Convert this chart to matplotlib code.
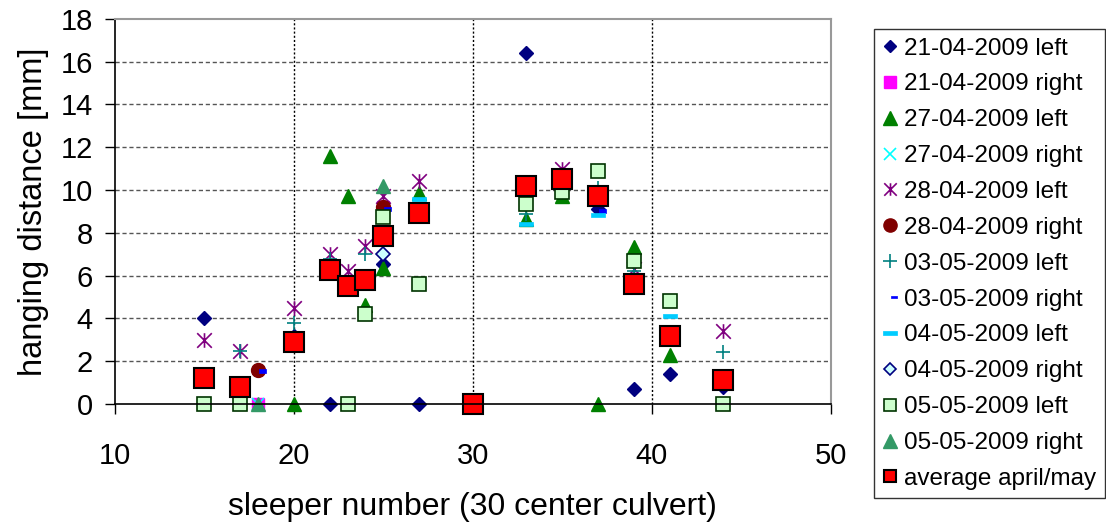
import numpy as np
import matplotlib
matplotlib.use('Agg')
from matplotlib import pyplot as plt
from matplotlib.path import Path

plt.rcParams['font.family'] = ['Liberation Sans', 'DejaVu Sans']

# hanging distance per sleeper, one series per measurement (date, side)
x_2104_l = [15, 20, 22, 25, 27, 33, 37, 39, 41, 44]
y_2104_l = [4.0, 3.2, 0.0, 6.55, 0.0, 16.4, 9.1, 0.7, 1.4, 0.8]

x_2104_r = [18, 25]
y_2104_r = [0.0, 9.2]

x_2704_l = [20, 22, 23, 24, 25, 27, 33, 35, 37, 39, 41]
y_2704_l = [0.0, 11.6, 9.7, 4.65, 6.35, 9.85, 8.65, 9.7, 0.0, 7.35, 2.3]

x_2704_r = [18]
y_2704_r = [0.0]

x_2804_l = [15, 17, 20, 22, 23, 24, 25, 27, 35, 39, 44]
y_2804_l = [3.0, 2.5, 4.5, 7.0, 6.2, 7.4, 9.7, 10.4, 11.0, 6.3, 3.4]

x_2804_r = [18, 25]
y_2804_r = [1.6, 9.2]

x_0305_l = [17, 20, 22, 24, 33, 37, 39, 44]
y_0305_l = [2.5, 3.8, 6.8, 7.0, 8.9, 10.1, 6.2, 2.45]

x_0305_r = [18, 25, 37]
y_0305_r = [1.55, 9.1, 9.0]

x_0405_l = [27, 33, 37, 41]
y_0405_l = [9.6, 8.4, 8.83, 4.1]

x_0405_r = [25]
y_0405_r = [7.0]

x_0505_l = [15, 17, 23, 24, 25, 27, 33, 35, 37, 39, 41, 44]
y_0505_l = [0.0, 0.0, 0.0, 4.2, 8.75, 5.6, 9.35, 9.9, 10.9, 6.7, 4.8, 0.0]

x_0505_r = [18, 25]
y_0505_r = [0.0, 10.2]

x_avg = [15, 17, 20, 22, 23, 24, 25, 27, 30, 33, 35, 37, 39, 41, 44]
y_avg = [1.2, 0.8, 2.9, 6.25, 5.5, 5.8, 7.85, 8.95, 0.0, 10.2, 10.5, 9.7, 5.6, 3.2, 1.1]

# excel-like marker shapes
star = Path([(0, -1), (0, 1), (-1, -1), (1, 1), (-1, 1), (1, -1)],
            [Path.MOVETO, Path.LINETO, Path.MOVETO, Path.LINETO, Path.MOVETO, Path.LINETO])
short_dash = Path([(0.1, -0.2), (1, -0.2), (1, 0.2), (0.1, 0.2), (0.1, -0.2)],
                  [Path.MOVETO, Path.LINETO, Path.LINETO, Path.LINETO, Path.CLOSEPOLY])
long_dash = Path([(-1, -0.28), (1, -0.28), (1, 0.28), (-1, 0.28), (-1, -0.28)],
                 [Path.MOVETO, Path.LINETO, Path.LINETO, Path.LINETO, Path.CLOSEPOLY])

# (x, y, label, style, marker size in legend)
series = [
    (x_2104_l, y_2104_l, '21-04-2009 left',
     dict(marker='D', ms=6.8, mfc='#000080', mec='#000080', mew=1), 5.8),
    (x_2104_r, y_2104_r, '21-04-2009 right',
     dict(marker='s', ms=8, mfc='#FF00FF', mec='#FF00FF', mew=1), 8.5),
    (x_2704_l, y_2704_l, '27-04-2009 left',
     dict(marker='^', ms=10, mfc='#008000', mec='#008000', mew=1), 9.5),
    (x_2704_r, y_2704_r, '27-04-2009 right',
     dict(marker='x', ms=8.5, mfc='#00FFFF', mec='#00FFFF', mew=1.2), 9),
    (x_2804_l, y_2804_l, '28-04-2009 left',
     dict(marker=star, ms=10.5, mfc='#800080', mec='#800080', mew=1.2), 9),
    (x_2804_r, y_2804_r, '28-04-2009 right',
     dict(marker='o', ms=10, mfc='#800000', mec='#800000', mew=1), 9.5),
    (x_0305_l, y_0305_l, '03-05-2009 left',
     dict(marker='+', ms=10, mfc='#008080', mec='#008080', mew=1.2), 10),
    (x_0305_r, y_0305_r, '03-05-2009 right',
     dict(marker=short_dash, ms=11.5, mfc='#0000FF', mec='#0000FF', mew=0.5), 10),
    (x_0405_l, y_0405_l, '04-05-2009 left',
     dict(marker=long_dash, ms=10, mfc='#00CCFF', mec='#00CCFF', mew=0.5), 10),
    (x_0405_r, y_0405_r, '04-05-2009 right',
     dict(marker='D', ms=6.8, mfc='#CCFFFF', mec='#000080', mew=1.2), 6),
    (x_0505_l, y_0505_l, '05-05-2009 left',
     dict(marker='s', ms=9.5, mfc='#CCFFCC', mec='#003300', mew=1.2), 8.5),
    (x_0505_r, y_0505_r, '05-05-2009 right',
     dict(marker='^', ms=10, mfc='#339966', mec='#339966', mew=1), 9.5),
    (x_avg, y_avg, 'average april/may',
     dict(marker='s', ms=15, mfc='#FF0000', mec='#000000', mew=1.5), 9),
]

fig = plt.figure(figsize=(11.06, 5.24), dpi=100)
ax = fig.add_axes([0.104, 0.229, 0.647, 0.735])

for xs, ys, label, style, _ in series:
    ax.plot(xs, ys, linestyle='none', label=label, clip_on=False, **style)

ax.set_xlim(10, 50)
ax.set_ylim(0, 18)
ax.set_xticks(np.arange(10, 51, 10))
ax.set_yticks(np.arange(0, 19, 2))

# horizontal grid dashed grey, vertical grid dotted black
for yv in np.arange(2, 18, 2):
    ax.axhline(yv, color='#555555', lw=1, ls=(0, (3, 2)), zorder=0)
for xv in [20, 30, 40]:
    ax.axvline(xv, color='black', lw=1, ls=(0, (1.5, 1.5)), zorder=0)

for side in ['top', 'right']:
    ax.spines[side].set_color('#999999')
    ax.spines[side].set_linewidth(1.5)
ax.spines['left'].set_linewidth(1.2)
ax.spines['bottom'].set_linewidth(1.2)

ax.tick_params(axis='both', direction='out', length=7, width=1, labelsize=21)
ax.tick_params(axis='x', pad=20)
ax.tick_params(axis='y', pad=9)
ax.set_xlabel('sleeper number (30 center culvert)', fontsize=23, labelpad=16)
ax.set_ylabel('hanging distance [mm]', fontsize=23.5, labelpad=8)

leg = fig.legend(loc='upper left', bbox_to_anchor=(874 / 1106, 1 - 29 / 524),
                 fontsize=17.5, frameon=True, fancybox=False, edgecolor='black',
                 handlelength=0.6, handletextpad=0.3, borderpad=0.35,
                 labelspacing=0.57, borderaxespad=0, numpoints=1)
leg.get_frame().set_linewidth(1)
for handle, entry in zip(leg.legend_handles, series):
    handle.set_markersize(entry[4])

fig.savefig('out.png', dpi=100)
